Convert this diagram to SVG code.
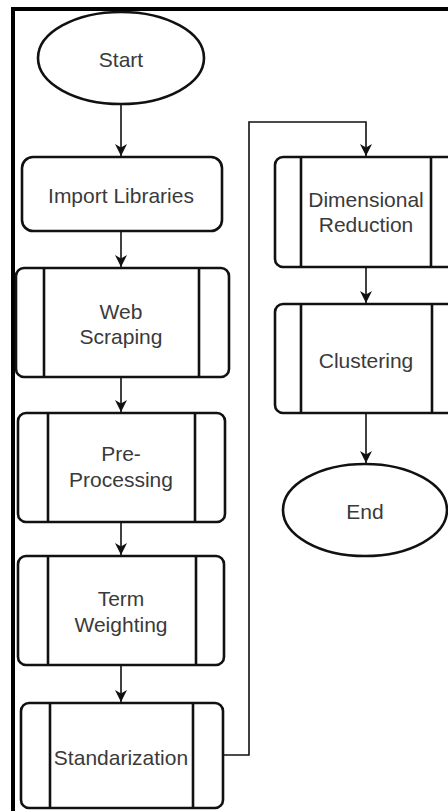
<svg xmlns="http://www.w3.org/2000/svg" width="448" height="811" viewBox="0 0 448 811">
  <style>
    .shape { fill: #ffffff; stroke: #111111; stroke-width: 2.6; }
    .bar { stroke: #111111; stroke-width: 2.6; fill: none; }
    .label { font-family: "Liberation Sans", Arial, sans-serif; font-size: 21px; fill: #3a3a3a; text-anchor: middle; dominant-baseline: central; }
    .edge { fill: none; stroke: #111111; stroke-width: 1.6; marker-end: url(#arrow); }
  </style>
  <defs>
    <!-- classic notched arrowhead, drawn pointing along +x -->
    <marker id="arrow" markerUnits="userSpaceOnUse" markerWidth="14" markerHeight="14" viewBox="0 0 14 14" refX="13" refY="7" orient="auto">
      <path d="M1 1 L13 7 L1 13 L4.5 7 Z" fill="#111111"/>
    </marker>
  </defs>

  <rect x="0" y="0" width="448" height="811" fill="#ffffff"/>

  <!-- outer frame -->
  <path d="M13 811 V9 H448" fill="none" stroke="#000000" stroke-width="4"/>

  <!-- connectors -->
  <g id="connectors">
    <path class="edge" d="M121 104 V156"/>
    <path class="edge" d="M121 231 V267"/>
    <path class="edge" d="M121 377 V412"/>
    <path class="edge" d="M121 522 V555"/>
    <path class="edge" d="M121 665 V702"/>
    <path class="edge" d="M223 755 H249 V122 H366 V156"/>
    <path class="edge" d="M366 267 V303"/>
    <path class="edge" d="M366 413 V463"/>
  </g>

  <g id="start">
    <ellipse class="shape" cx="121" cy="58" rx="83" ry="46"/>
    <text class="label" x="121" y="59">Start</text>
  </g>

  <g id="import-libraries">
    <rect class="shape" x="22" y="157" width="200" height="74" rx="11"/>
    <text class="label" x="121" y="195">Import Libraries</text>
  </g>

  <g id="web-scraping">
    <rect class="shape" x="16" y="268" width="213" height="109" rx="8"/>
    <path class="bar" d="M44 268 V377 M199 268 V377"/>
    <text class="label" x="121" y="311">Web</text>
    <text class="label" x="121" y="336">Scraping</text>
  </g>

  <g id="pre-processing">
    <rect class="shape" x="18" y="413" width="207" height="109" rx="8"/>
    <path class="bar" d="M48 413 V522 M195 413 V522"/>
    <text class="label" x="121" y="453">Pre-</text>
    <text class="label" x="121" y="479">Processing</text>
  </g>

  <g id="term-weighting">
    <rect class="shape" x="18" y="556" width="206" height="109" rx="8"/>
    <path class="bar" d="M48 556 V665 M196 556 V665"/>
    <text class="label" x="121" y="598">Term</text>
    <text class="label" x="121" y="624">Weighting</text>
  </g>

  <g id="standarization">
    <rect class="shape" x="21" y="703" width="202" height="105" rx="8"/>
    <path class="bar" d="M50 703 V808 M193 703 V808"/>
    <text class="label" x="121" y="757">Standarization</text>
  </g>

  <g id="dimensional-reduction">
    <rect class="shape" x="275" y="157" width="183" height="110" rx="8"/>
    <path class="bar" d="M301 157 V267 M431 157 V267"/>
    <text class="label" x="366" y="199">Dimensional</text>
    <text class="label" x="366" y="224">Reduction</text>
  </g>

  <g id="clustering">
    <rect class="shape" x="275" y="304" width="183" height="109" rx="8"/>
    <path class="bar" d="M301 304 V413 M432 304 V413"/>
    <text class="label" x="366" y="360">Clustering</text>
  </g>

  <g id="end">
    <ellipse class="shape" cx="365" cy="510" rx="82" ry="46"/>
    <text class="label" x="365" y="511">End</text>
  </g>
</svg>
